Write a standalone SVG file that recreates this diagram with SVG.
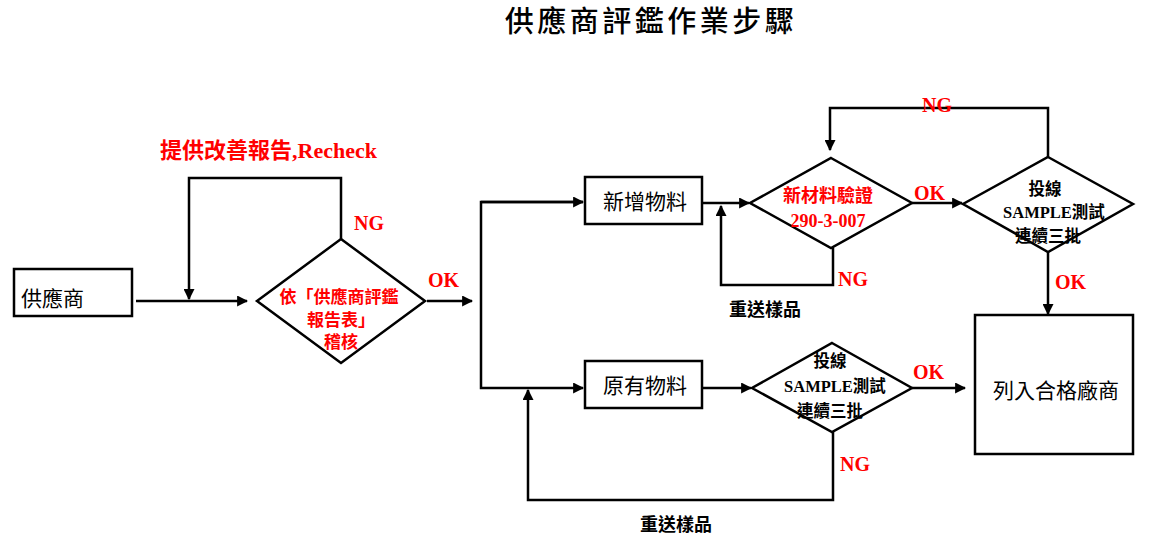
<svg xmlns="http://www.w3.org/2000/svg" width="1153" height="541" viewBox="0 0 1153 541">
<style>
.shape{fill:#fff;stroke:#000;stroke-width:2.5}
.line{fill:none;stroke:#000;stroke-width:2.5}
.box{font-family:"Noto Sans CJK TC","Liberation Sans",sans-serif;font-size:21px;fill:#000}
.red{font-family:"Liberation Serif","Noto Sans CJK TC",serif;font-weight:bold;fill:#ff0000}
.blk{font-family:"Liberation Serif","Noto Sans CJK TC",serif;font-weight:bold;fill:#000}
</style>
<defs>
<marker id="ah" viewBox="0 0 10 10" refX="9" refY="5" markerWidth="4.4" markerHeight="4.4" orient="auto" markerUnits="strokeWidth">
<path d="M0,0 L10,5 L0,10 z" fill="#000"/>
</marker>
</defs>
<rect width="1153" height="541" fill="#fff"/>
<text x="651" y="32" text-anchor="middle" font-family="'Noto Sans CJK TC',sans-serif" font-size="29" font-weight="500" letter-spacing="3.5">供應商評鑑作業步驟</text>

<g id="connectors">
<path class="line" d="M136,301 L247,301" marker-end="url(#ah)"/>
<path class="line" d="M341,239 L341,178 L189,178 L189,299" marker-end="url(#ah)"/>
<path class="line" d="M427,301 L472,301" marker-end="url(#ah)"/>
<path class="line" d="M583,202 L481,202 L481,388 L583,388" marker-end="url(#ah)"/>
<path class="line" d="M481,202 L583,202" marker-end="url(#ah)"/>
<path class="line" d="M702,203 L749,203" marker-end="url(#ah)"/>
<path class="line" d="M833,248 L833,285 L721,285 L721,206" marker-end="url(#ah)"/>
<path class="line" d="M912,203 L962,203" marker-end="url(#ah)"/>
<path class="line" d="M1048,157 L1048,108 L830,108 L830,150" marker-end="url(#ah)"/>
<path class="line" d="M1048,252 L1048,314" marker-end="url(#ah)"/>
<path class="line" d="M702,388 L751,388" marker-end="url(#ah)"/>
<path class="line" d="M912,388 L965,388" marker-end="url(#ah)"/>
<path class="line" d="M833,432 L833,500 L528,500 L528,390" marker-end="url(#ah)"/>
</g>

<g id="supplier">
<rect class="shape" x="14" y="269" width="118" height="47"/>
<text class="box" x="21" y="306">供應商</text>
</g>

<g id="audit">
<polygon class="shape" points="341,239 425,301 341,363 257,301"/>
<text class="red" font-size="17" text-anchor="middle"><tspan x="339" y="303">依「供應商評鑑</tspan><tspan x="341" y="326">報告表」</tspan><tspan x="341" y="348">稽核</tspan></text>
</g>

<g id="new-material">
<rect class="shape" x="585" y="177" width="117" height="47"/>
<text class="box" x="645" y="209" text-anchor="middle">新增物料</text>
</g>

<g id="existing-material">
<rect class="shape" x="585" y="361" width="117" height="47"/>
<text class="box" x="645" y="393" text-anchor="middle">原有物料</text>
</g>

<g id="new-verify">
<polygon class="shape" points="831,158 912,203 831,248 750,203"/>
<text class="red" font-size="18" text-anchor="middle"><tspan x="828" y="202">新材料驗證</tspan><tspan x="828" y="227">290-3-007</tspan></text>
</g>

<g id="new-trial">
<polygon class="shape" points="1048,157 1133,204 1048,252 963,204"/>
<text class="blk" font-size="16.5" text-anchor="middle"><tspan x="1045" y="195">投線</tspan><tspan x="1054" y="218">SAMPLE測試</tspan><tspan x="1048" y="242">連續三批</tspan></text>
</g>

<g id="existing-trial">
<polygon class="shape" points="832,343 912,388 832,432 752,388"/>
<text class="blk" font-size="16.5" text-anchor="middle"><tspan x="830" y="367">投線</tspan><tspan x="835" y="392">SAMPLE測試</tspan><tspan x="830" y="417">連續三批</tspan></text>
</g>

<g id="qualified">
<rect class="shape" x="975" y="315" width="158" height="139"/>
<text class="box" font-size="22" x="1056" y="398" text-anchor="middle">列入合格廠商</text>
</g>

<g id="labels">
<text class="red" font-size="22" x="160" y="158">提供改善報告,Recheck</text>
<text class="red" font-size="20" x="354" y="230">NG</text>
<text class="red" font-size="20" x="428" y="287">OK</text>
<text class="red" font-size="20" x="914" y="200">OK</text>
<text class="red" font-size="20" x="922" y="112">NG</text>
<text class="red" font-size="20" x="838" y="286">NG</text>
<text class="red" font-size="20" x="1055" y="289">OK</text>
<text class="red" font-size="20" x="913" y="379">OK</text>
<text class="red" font-size="20" x="840" y="471">NG</text>
<text class="blk" font-size="18" x="729" y="316">重送樣品</text>
<text class="blk" font-size="18" x="640" y="531">重送樣品</text>
</g>
</svg>
